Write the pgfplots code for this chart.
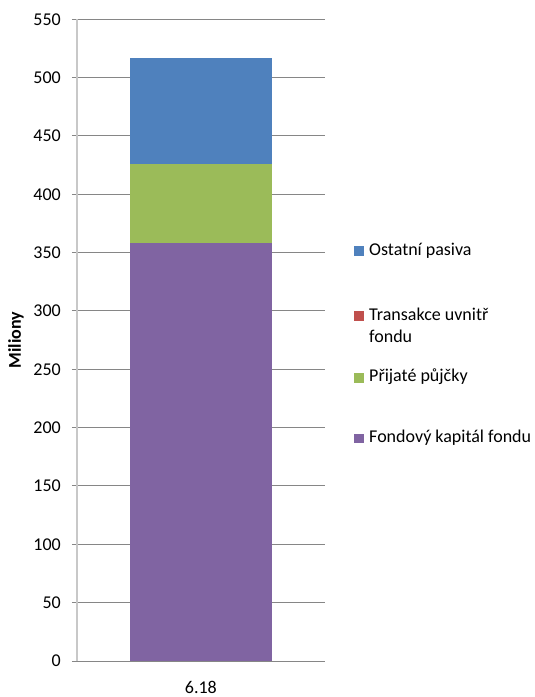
\documentclass[border=0pt]{standalone}
\usepackage{pgfplots}
\pgfplotsset{compat=1.18}
\usepackage{fontspec}
\setmainfont{Carlito}
\definecolor{cblue}{HTML}{4F81BD}
\definecolor{cred}{HTML}{C0504D}
\definecolor{cgreen}{HTML}{9BBB59}
\definecolor{cpurple}{HTML}{8064A2}
\definecolor{gridgray}{HTML}{868686}
\definecolor{axisgray}{HTML}{C8C8C8}
\begin{document}
\begin{tikzpicture}[font=\fontsize{18bp}{22bp}\selectfont]
\path[use as bounding box] (-77bp,-36bp) rectangle (458bp,661.3bp);
\begin{axis}[
  at={(0,0)}, anchor=south west,
  scale only axis, width=248bp, height=642bp,
  xmin=-1, xmax=1, ymin=0, ymax=550,
  ytick={0,50,...,550},
  xtick={0}, xticklabels={6.18},
  ybar stacked, bar width=142bp,
  axis x line*=bottom, axis y line*=left,
  separate axis lines,
  x axis line style={draw=gridgray, line width=1bp, -},
  y axis line style={draw=axisgray, line width=1.6bp, -},
  ymajorgrids, grid style={draw=gridgray, line width=1bp},
  tick align=outside, major tick length=5bp,
  ytick style={draw=gridgray, line width=1bp},
  xtick style={draw=none},
  /pgf/number format/assume math mode=true,
  yticklabel style={anchor=east, inner sep=0pt, xshift=-11bp},
  xticklabel style={anchor=north, inner sep=0pt, text depth=0pt, yshift=-15bp},
  ylabel={\bfseries Miliony},
  ylabel style={at={([xshift=-53bp]rel axis cs:0,0.5)}, anchor=south, inner sep=0pt, rotate=0},
  legend style={at={(rel axis cs:1,1)}, anchor=north west, xshift=29.3bp, yshift=-223.7bp,
    draw=none, fill=none, inner xsep=0pt, inner ysep=0pt, row sep=0pt, column sep=6bp,
    cells={anchor=base west},
    nodes={inner sep=0pt, text height=12bp, text depth=4bp}},
]
\addplot[fill=cpurple, draw=none, forget plot] coordinates {(0,358.4)};
\addplot[fill=cgreen, draw=none, forget plot] coordinates {(0,67.2)};
\addplot[fill=cred, draw=none, forget plot] coordinates {(0,0)};
\addplot[fill=cblue, draw=none, forget plot] coordinates {(0,91.4)};
\addlegendimage{legend image code/.code={\fill[cblue] (0bp,0bp) rectangle (8.5bp,8.5bp);}}
\addlegendentry[text depth=53bp]{Ostatní pasiva}
\addlegendimage{legend image code/.code={\fill[cred] (0bp,0bp) rectangle (8.5bp,8.5bp);}}
\addlegendentry[text depth=10.7bp]{Transakce uvnitř}
\addlegendimage{empty legend}
\addlegendentry[text depth=27bp]{fondu}
\addlegendimage{legend image code/.code={\fill[cgreen] (0bp,0bp) rectangle (8.5bp,8.5bp);}}
\addlegendentry[text depth=48.6bp]{Přijaté půjčky}
\addlegendimage{legend image code/.code={\fill[cpurple] (0bp,0bp) rectangle (8.5bp,8.5bp);}}
\addlegendentry[text depth=4bp]{Fondový kapitál fondu}
\end{axis}
\end{tikzpicture}
\end{document}
